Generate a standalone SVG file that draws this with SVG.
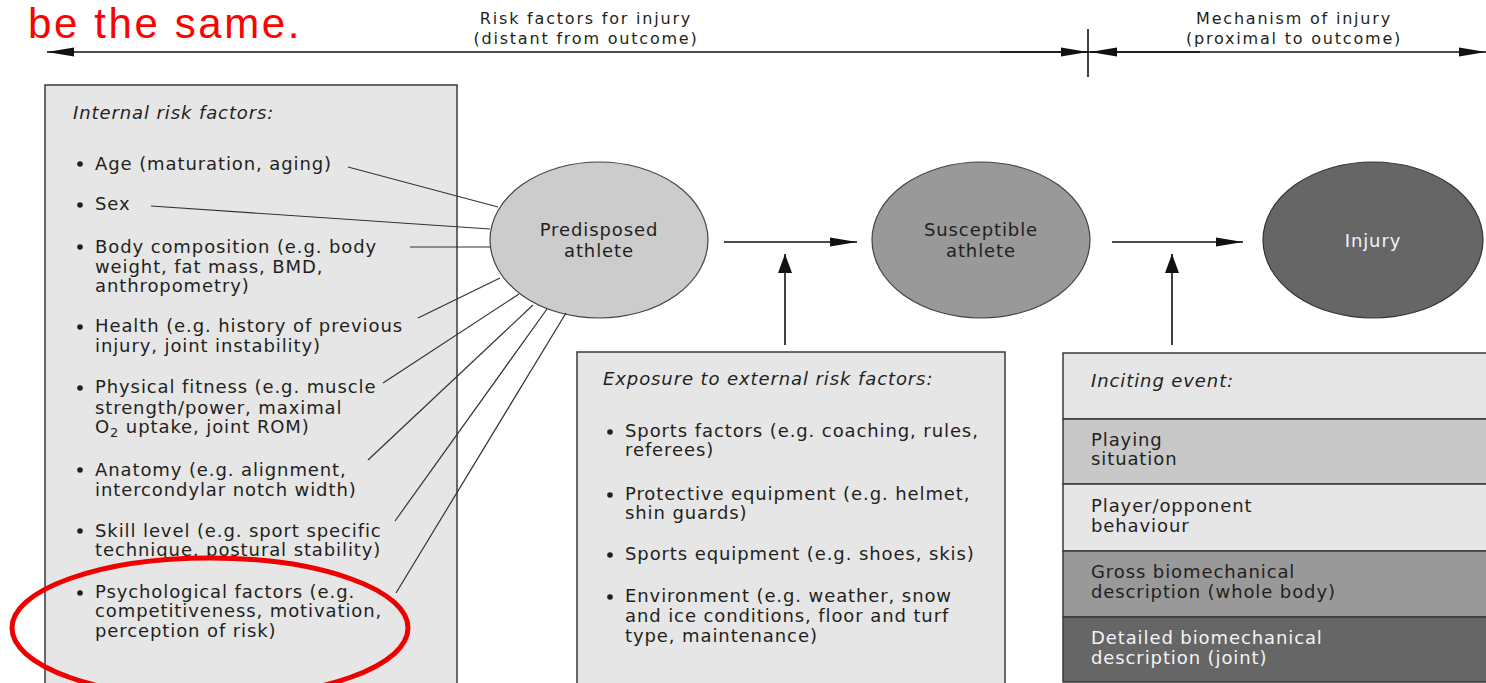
<svg xmlns="http://www.w3.org/2000/svg" width="1486" height="683" viewBox="0 0 1486 683">
<defs>
<style>
.t{font-family:"DejaVu Sans","Liberation Sans",sans-serif;font-size:18px;letter-spacing:0.9px;fill:#231f20}
.i{font-style:italic}
.h{font-family:"DejaVu Sans","Liberation Sans",sans-serif;font-size:16px;letter-spacing:1.8px;fill:#231f20;text-anchor:middle}
.c{text-anchor:middle}
.w{fill:#f2f4f7}
.box{stroke:#3a3a3a;stroke-width:1.5}
.sp{stroke:#333;stroke-width:1.2;fill:none}
.ar{stroke:#111;stroke-width:1.6;fill:none}
</style>
<marker id="ah" markerWidth="27" markerHeight="12" refX="27" refY="6" orient="auto" markerUnits="userSpaceOnUse"><path d="M0,1.5 L27,6 L0,10.5 z" fill="#111"/></marker>
<marker id="av" markerWidth="19" markerHeight="14" refX="19" refY="7" orient="auto" markerUnits="userSpaceOnUse"><path d="M0,0 L19,7 L0,14 z" fill="#111"/></marker>
</defs>
<rect width="1486" height="683" fill="#fff"/>

<text x="28" y="38" font-family="Liberation Sans, Arial, sans-serif" font-size="42" letter-spacing="2.6" fill="#ff0000">be the same.</text>

<g id="header">
<text class="h" x="586" y="24">Risk factors for injury</text>
<text class="h" x="586" y="44">(distant from outcome)</text>
<text class="h" x="1294" y="24">Mechanism of injury</text>
<text class="h" x="1294" y="44">(proximal to outcome)</text>
</g>

<g id="internal">
<rect class="box" x="45" y="85" width="412" height="610" fill="#e6e6e6"/>
<text class="t i" x="73" y="119">Internal risk factors:</text>
<g fill="#231f20">
<circle cx="80" cy="164" r="2.8"/><circle cx="80" cy="205" r="2.8"/><circle cx="80" cy="247" r="2.8"/><circle cx="80" cy="327" r="2.8"/><circle cx="80" cy="388" r="2.8"/><circle cx="80" cy="470" r="2.8"/><circle cx="80" cy="531" r="2.8"/><circle cx="80" cy="593" r="2.8"/>
</g>
<text class="t" x="95" y="170">Age (maturation, aging)</text>
<text class="t" x="95" y="210">Sex</text>
<text class="t" x="95" y="253">Body composition (e.g. body</text>
<text class="t" x="95" y="273">weight, fat mass, BMD,</text>
<text class="t" x="95" y="292">anthropometry)</text>
<text class="t" x="95" y="332">Health (e.g. history of previous</text>
<text class="t" x="95" y="352">injury, joint instability)</text>
<text class="t" x="95" y="393">Physical fitness (e.g. muscle</text>
<text class="t" x="95" y="414">strength/power, maximal</text>
<text class="t" x="95" y="433">O<tspan font-size="13" dy="4">2</tspan><tspan dy="-4"> uptake, joint ROM)</tspan></text>
<text class="t" x="95" y="476">Anatomy (e.g. alignment,</text>
<text class="t" x="95" y="496">intercondylar notch width)</text>
<text class="t" x="95" y="537">Skill level (e.g. sport specific</text>
<text class="t" x="95" y="556">technique, postural stability)</text>
<text class="t" x="95" y="598">Psychological factors (e.g.</text>
<text class="t" x="95" y="617">competitiveness, motivation,</text>
<text class="t" x="95" y="637">perception of risk)</text>
</g>

<g id="predisposed">
<ellipse cx="599" cy="240" rx="109" ry="78" fill="#cccccc" stroke="#444" stroke-width="1.2"/>
<text class="t c" x="599" y="236">Predisposed</text>
<text class="t c" x="599" y="257">athlete</text>
</g>

<g id="susceptible">
<ellipse cx="981" cy="240" rx="109" ry="78" fill="#999999" stroke="#444" stroke-width="1.2"/>
<text class="t c" x="981" y="236">Susceptible</text>
<text class="t c" x="981" y="257">athlete</text>
</g>

<g id="injury">
<ellipse cx="1373" cy="240" rx="110" ry="78" fill="#666666" stroke="#333" stroke-width="1.2"/>
<text class="t c w" x="1373" y="247">Injury</text>
</g>

<g id="external">
<rect class="box" x="577" y="352" width="428" height="345" fill="#e6e6e6"/>
<text class="t i" x="603" y="385">Exposure to external risk factors:</text>
<g fill="#231f20">
<circle cx="610" cy="432" r="2.8"/><circle cx="610" cy="495" r="2.8"/><circle cx="610" cy="555" r="2.8"/><circle cx="610" cy="597" r="2.8"/>
</g>
<text class="t" x="625" y="437">Sports factors (e.g. coaching, rules,</text>
<text class="t" x="625" y="456">referees)</text>
<text class="t" x="625" y="500">Protective equipment (e.g. helmet,</text>
<text class="t" x="625" y="519">shin guards)</text>
<text class="t" x="625" y="560">Sports equipment (e.g. shoes, skis)</text>
<text class="t" x="625" y="602">Environment (e.g. weather, snow</text>
<text class="t" x="625" y="622">and ice conditions, floor and turf</text>
<text class="t" x="625" y="642">type, maintenance)</text>
</g>

<g id="inciting">
<rect class="box" x="1063" y="353" width="440" height="66" fill="#e6e6e6"/>
<rect class="box" x="1063" y="419" width="440" height="65" fill="#c8c8c8"/>
<rect class="box" x="1063" y="484" width="440" height="67" fill="#e6e6e6"/>
<rect class="box" x="1063" y="551" width="440" height="66" fill="#999999"/>
<rect class="box" x="1063" y="617" width="440" height="65" fill="#666666"/>
<text class="t i" x="1091" y="387">Inciting event:</text>
<text class="t" x="1091" y="446" font-size="17">Playing</text>
<text class="t" x="1091" y="465" font-size="17">situation</text>
<text class="t" x="1091" y="512">Player/opponent</text>
<text class="t" x="1091" y="532">behaviour</text>
<text class="t" x="1091" y="578">Gross biomechanical</text>
<text class="t" x="1091" y="598">description (whole body)</text>
<text class="t w" x="1091" y="644">Detailed biomechanical</text>
<text class="t w" x="1091" y="664">description (joint)</text>
</g>

<g id="connectors">
<line class="sp" x1="348" y1="167" x2="498" y2="207"/>
<line class="sp" x1="151" y1="206" x2="490" y2="229"/>
<line class="sp" x1="410" y1="247" x2="490" y2="247"/>
<line class="sp" x1="418" y1="318" x2="500" y2="278"/>
<line class="sp" x1="383" y1="383" x2="519" y2="294"/>
<line class="sp" x1="368" y1="460" x2="533" y2="305"/>
<line class="sp" x1="395" y1="521" x2="547" y2="309"/>
<line class="sp" x1="396" y1="593" x2="566" y2="313"/>
<line class="ar" x1="724" y1="242" x2="857" y2="242" marker-end="url(#ah)"/>
<line class="ar" x1="1112" y1="242" x2="1243" y2="242" marker-end="url(#ah)"/>
<line class="ar" x1="785" y1="345" x2="785" y2="254" marker-end="url(#av)"/>
<line class="ar" x1="1172" y1="345" x2="1172" y2="254" marker-end="url(#av)"/>
<line class="ar" x1="1088" y1="52" x2="47" y2="52" marker-end="url(#ah)"/>
<line class="ar" x1="1000" y1="52" x2="1088" y2="52" marker-end="url(#ah)"/>
<line class="ar" x1="1200" y1="52" x2="1090" y2="52" marker-end="url(#ah)"/>
<line class="ar" x1="1088" y1="52" x2="1486" y2="52" marker-end="url(#ah)"/>
<line class="ar" x1="1088" y1="29" x2="1088" y2="77"/>
</g>

<ellipse id="highlight" cx="210" cy="628" rx="198" ry="70" fill="none" stroke="#ee0000" stroke-width="5"/>
</svg>
